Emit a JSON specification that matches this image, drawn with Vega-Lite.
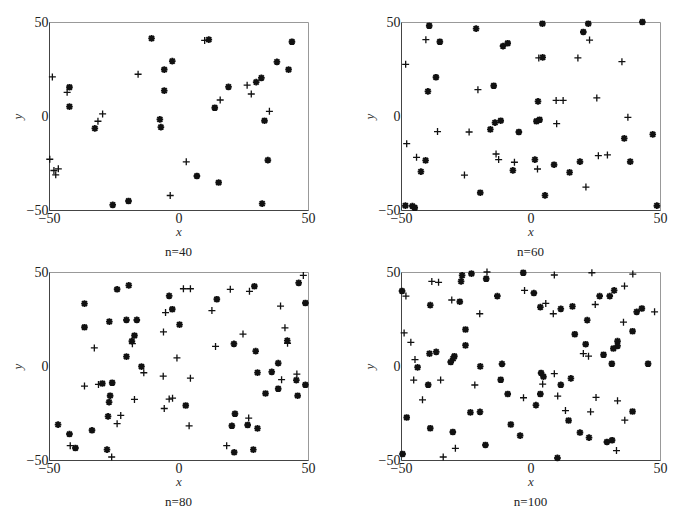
{
  "$schema": "https://vega.github.io/schema/vega-lite/v6.json",
  "padding": {"left": 10, "top": 14, "right": 5, "bottom": 5},
  "background": "white",
  "datasets": {
    "p40": [
      {"x": -10.4, "y": 41.3, "m": "a"}, {"x": 11.7, "y": 40.6, "m": "a"}, {"x": 43.8, "y": 39.5, "m": "a"}, {"x": -2.4, "y": 29.2, "m": "a"},
      {"x": -5.5, "y": 24.7, "m": "a"}, {"x": 38.0, "y": 28.8, "m": "a"}, {"x": 42.5, "y": 24.7, "m": "a"}, {"x": 32.0, "y": 20.3, "m": "a"},
      {"x": 30.0, "y": 18.0, "m": "a"}, {"x": -42.1, "y": 15.3, "m": "a"}, {"x": 19.3, "y": 15.5, "m": "a"}, {"x": -5.5, "y": 13.5, "m": "a"},
      {"x": -42.1, "y": 5.0, "m": "a"}, {"x": 14.0, "y": 4.4, "m": "a"}, {"x": -7.2, "y": -1.8, "m": "a"}, {"x": -6.8, "y": -5.9, "m": "a"},
      {"x": -32.3, "y": -6.6, "m": "a"}, {"x": 33.2, "y": -2.5, "m": "a"}, {"x": 34.5, "y": -23.5, "m": "a"}, {"x": 7.1, "y": -31.9, "m": "a"},
      {"x": 15.5, "y": -35.4, "m": "a"}, {"x": -19.3, "y": -45.2, "m": "a"}, {"x": -25.4, "y": -47.3, "m": "a"}, {"x": 32.3, "y": -46.6, "m": "a"},
      {"x": -48.7, "y": 20.8, "m": "p"}, {"x": -43.0, "y": 12.6, "m": "p"}, {"x": -15.6, "y": 22.2, "m": "p"}, {"x": 10.1, "y": 40.2, "m": "p"},
      {"x": 26.5, "y": 16.4, "m": "p"}, {"x": 28.1, "y": 11.7, "m": "p"}, {"x": 16.1, "y": 8.5, "m": "p"}, {"x": 35.1, "y": 2.5, "m": "p"},
      {"x": -29.3, "y": 1.1, "m": "p"}, {"x": -31.1, "y": -2.8, "m": "p"}, {"x": -49.7, "y": -23.0, "m": "p"}, {"x": -48.1, "y": -29.0, "m": "p"},
      {"x": -46.4, "y": -28.1, "m": "p"}, {"x": -47.4, "y": -31.3, "m": "p"}, {"x": 3.0, "y": -24.4, "m": "p"}, {"x": -3.2, "y": -42.3, "m": "p"}
    ],
    "p60": [
      {"x": -39.1, "y": 48.0, "m": "a"}, {"x": -21.0, "y": 46.5, "m": "a"}, {"x": -35.0, "y": 39.5, "m": "a"}, {"x": -10.6, "y": 37.2, "m": "a"},
      {"x": -8.8, "y": 38.7, "m": "a"}, {"x": 4.6, "y": 49.1, "m": "a"}, {"x": 20.4, "y": 44.7, "m": "a"}, {"x": 22.3, "y": 49.1, "m": "a"},
      {"x": 43.2, "y": 50.0, "m": "a"}, {"x": 4.7, "y": 31.2, "m": "a"}, {"x": -36.5, "y": 20.6, "m": "a"}, {"x": -39.6, "y": 13.1, "m": "a"},
      {"x": -14.2, "y": 16.1, "m": "a"}, {"x": 2.9, "y": 7.8, "m": "a"}, {"x": 3.5, "y": -2.0, "m": "a"}, {"x": 2.3, "y": -2.8, "m": "a"},
      {"x": -11.5, "y": -2.5, "m": "a"}, {"x": -13.7, "y": -3.5, "m": "a"}, {"x": -15.5, "y": -7.1, "m": "a"}, {"x": -4.5, "y": -8.5, "m": "a"},
      {"x": 36.2, "y": -11.9, "m": "a"}, {"x": 47.2, "y": -9.8, "m": "a"}, {"x": -40.5, "y": -23.6, "m": "a"}, {"x": -42.3, "y": -29.6, "m": "a"},
      {"x": 1.7, "y": -23.2, "m": "a"}, {"x": -6.8, "y": -28.9, "m": "a"}, {"x": 9.1, "y": -25.9, "m": "a"}, {"x": 19.1, "y": -24.3, "m": "a"},
      {"x": 15.1, "y": -30.0, "m": "a"}, {"x": 38.5, "y": -24.3, "m": "a"}, {"x": -19.4, "y": -40.8, "m": "a"}, {"x": 5.6, "y": -42.2, "m": "a"},
      {"x": -48.3, "y": -47.7, "m": "a"}, {"x": -44.7, "y": -48.8, "m": "a"}, {"x": -45.6, "y": -47.9, "m": "a"}, {"x": 48.8, "y": -47.7, "m": "a"},
      {"x": -40.4, "y": 40.6, "m": "p"}, {"x": -48.2, "y": 27.5, "m": "p"}, {"x": 22.8, "y": 40.4, "m": "p"}, {"x": 3.2, "y": 30.9, "m": "p"},
      {"x": 18.3, "y": 30.9, "m": "p"}, {"x": 35.3, "y": 28.9, "m": "p"}, {"x": -20.3, "y": 14.0, "m": "p"}, {"x": 9.9, "y": 8.3, "m": "p"},
      {"x": 12.6, "y": 8.3, "m": "p"}, {"x": 25.6, "y": 9.6, "m": "p"}, {"x": 37.6, "y": -0.7, "m": "p"}, {"x": 10.1, "y": -4.1, "m": "p"},
      {"x": -35.9, "y": -8.3, "m": "p"}, {"x": -23.7, "y": -8.5, "m": "p"}, {"x": -47.8, "y": -14.7, "m": "p"}, {"x": -44.0, "y": -22.0, "m": "p"},
      {"x": -13.3, "y": -20.2, "m": "p"}, {"x": -12.3, "y": -23.2, "m": "p"}, {"x": -6.2, "y": -24.6, "m": "p"}, {"x": 2.7, "y": -28.2, "m": "p"},
      {"x": 26.2, "y": -21.1, "m": "p"}, {"x": 29.7, "y": -20.7, "m": "p"}, {"x": -25.5, "y": -31.4, "m": "p"}, {"x": 21.4, "y": -37.8, "m": "p"}
    ],
    "p80": [
      {"x": -36.3, "y": 33.2, "m": "a"}, {"x": -36.3, "y": 20.6, "m": "a"}, {"x": -23.7, "y": 40.8, "m": "a"}, {"x": -19.2, "y": 42.9, "m": "a"},
      {"x": -26.7, "y": 23.6, "m": "a"}, {"x": -20.1, "y": 24.5, "m": "a"}, {"x": -16.1, "y": 24.5, "m": "a"}, {"x": -17.0, "y": 16.2, "m": "a"},
      {"x": -18.0, "y": 13.2, "m": "a"}, {"x": -20.1, "y": 5.0, "m": "a"}, {"x": -14.3, "y": -0.3, "m": "a"}, {"x": -3.6, "y": 37.3, "m": "a"},
      {"x": -2.4, "y": 30.2, "m": "a"}, {"x": 0.4, "y": 22.0, "m": "a"}, {"x": 14.8, "y": 35.5, "m": "a"}, {"x": 29.3, "y": 42.4, "m": "a"},
      {"x": 46.4, "y": 44.2, "m": "a"}, {"x": 49.0, "y": 33.5, "m": "a"}, {"x": 21.4, "y": 11.8, "m": "a"}, {"x": 29.8, "y": 7.9, "m": "a"},
      {"x": 42.0, "y": 13.5, "m": "a"}, {"x": 38.5, "y": 1.5, "m": "a"}, {"x": 30.5, "y": -3.5, "m": "a"}, {"x": 36.0, "y": -3.1, "m": "a"},
      {"x": 38.5, "y": -12.1, "m": "a"}, {"x": 33.6, "y": -14.6, "m": "a"}, {"x": 45.5, "y": -7.5, "m": "a"}, {"x": 49.0, "y": -10.0, "m": "a"},
      {"x": 46.0, "y": -15.8, "m": "a"}, {"x": -25.6, "y": -8.9, "m": "a"}, {"x": -29.4, "y": -9.3, "m": "a"}, {"x": -26.4, "y": -15.8, "m": "a"},
      {"x": -26.8, "y": -19.2, "m": "a"}, {"x": -27.2, "y": -26.8, "m": "a"}, {"x": 2.8, "y": -21.0, "m": "a"}, {"x": 21.8, "y": -25.4, "m": "a"},
      {"x": 20.6, "y": -31.8, "m": "a"}, {"x": 26.7, "y": -31.4, "m": "a"}, {"x": 30.5, "y": -33.2, "m": "a"}, {"x": -46.5, "y": -31.2, "m": "a"},
      {"x": -42.1, "y": -36.2, "m": "a"}, {"x": -33.4, "y": -34.2, "m": "a"}, {"x": -39.8, "y": -43.6, "m": "a"}, {"x": -27.6, "y": -44.5, "m": "a"},
      {"x": 21.5, "y": -45.9, "m": "a"}, {"x": 28.9, "y": -44.5, "m": "a"},
      {"x": 4.6, "y": 41.1, "m": "p"}, {"x": 1.9, "y": 41.1, "m": "p"}, {"x": 20.0, "y": 40.8, "m": "p"}, {"x": 27.4, "y": 39.7, "m": "p"},
      {"x": 48.2, "y": 48.2, "m": "p"}, {"x": -5.0, "y": 28.4, "m": "p"}, {"x": 12.9, "y": 29.5, "m": "p"}, {"x": 39.4, "y": 31.9, "m": "p"},
      {"x": 41.1, "y": 20.3, "m": "p"}, {"x": -5.8, "y": 18.1, "m": "p"}, {"x": 24.9, "y": 17.0, "m": "p"}, {"x": 42.1, "y": 12.1, "m": "p"},
      {"x": 14.3, "y": 10.4, "m": "p"}, {"x": -17.8, "y": 11.9, "m": "p"}, {"x": -32.5, "y": 9.6, "m": "p"}, {"x": -0.6, "y": 4.3, "m": "p"},
      {"x": -13.4, "y": -3.6, "m": "p"}, {"x": -5.9, "y": -5.4, "m": "p"}, {"x": 4.6, "y": -6.5, "m": "p"}, {"x": 39.8, "y": -7.3, "m": "p"},
      {"x": 45.7, "y": -4.3, "m": "p"}, {"x": -36.3, "y": -10.7, "m": "p"}, {"x": -30.9, "y": -9.8, "m": "p"}, {"x": -17.0, "y": -17.8, "m": "p"},
      {"x": -3.6, "y": -17.6, "m": "p"}, {"x": -2.3, "y": -17.1, "m": "p"}, {"x": -5.5, "y": -22.6, "m": "p"}, {"x": -22.3, "y": -26.3, "m": "p"},
      {"x": -23.7, "y": -30.7, "m": "p"}, {"x": 27.1, "y": -27.7, "m": "p"}, {"x": 4.1, "y": -31.8, "m": "p"}, {"x": -41.8, "y": -42.4, "m": "p"},
      {"x": 18.6, "y": -42.4, "m": "p"}, {"x": -25.8, "y": -48.4, "m": "p"}
    ],
    "p100": [
      {"x": -49.6, "y": 39.9, "m": "a"}, {"x": -38.7, "y": 32.4, "m": "a"}, {"x": -26.4, "y": 48.2, "m": "a"}, {"x": -26.8, "y": 45.0, "m": "a"},
      {"x": -22.8, "y": 49.1, "m": "a"}, {"x": -17.1, "y": 46.4, "m": "a"}, {"x": -27.3, "y": 34.2, "m": "a"}, {"x": -12.8, "y": 37.2, "m": "a"},
      {"x": -2.8, "y": 49.6, "m": "a"}, {"x": 1.3, "y": 38.8, "m": "a"}, {"x": 3.8, "y": 31.3, "m": "a"}, {"x": 11.7, "y": 30.4, "m": "a"},
      {"x": 16.2, "y": 31.7, "m": "a"}, {"x": 26.7, "y": 37.2, "m": "a"}, {"x": 30.6, "y": 37.2, "m": "a"}, {"x": 32.3, "y": 40.2, "m": "a"},
      {"x": 21.9, "y": 24.4, "m": "a"}, {"x": 41.0, "y": 28.8, "m": "a"}, {"x": 43.0, "y": 30.6, "m": "a"}, {"x": -25.1, "y": 19.4, "m": "a"},
      {"x": -25.1, "y": 11.0, "m": "a"}, {"x": 17.1, "y": 16.9, "m": "a"}, {"x": 21.3, "y": 11.6, "m": "a"}, {"x": 33.6, "y": 13.2, "m": "a"},
      {"x": 33.6, "y": 10.7, "m": "a"}, {"x": 32.0, "y": 9.3, "m": "a"}, {"x": 39.4, "y": 18.5, "m": "a"}, {"x": 28.2, "y": 6.0, "m": "a"},
      {"x": 31.4, "y": 1.2, "m": "a"}, {"x": 45.4, "y": 1.2, "m": "a"}, {"x": -39.0, "y": 6.6, "m": "a"}, {"x": -36.4, "y": 7.5, "m": "a"},
      {"x": -29.4, "y": 5.2, "m": "a"}, {"x": -29.9, "y": 3.9, "m": "a"}, {"x": -30.8, "y": 2.1, "m": "a"}, {"x": -43.6, "y": -0.7, "m": "a"},
      {"x": -19.4, "y": -0.2, "m": "a"}, {"x": -11.0, "y": 1.1, "m": "a"}, {"x": -11.5, "y": -7.3, "m": "a"}, {"x": -39.5, "y": -10.0, "m": "a"},
      {"x": 4.1, "y": -3.7, "m": "a"}, {"x": 5.0, "y": -5.7, "m": "a"}, {"x": 11.7, "y": -10.0, "m": "a"}, {"x": 15.6, "y": -6.6, "m": "a"},
      {"x": -8.8, "y": -14.9, "m": "a"}, {"x": 3.8, "y": -14.9, "m": "a"}, {"x": 2.1, "y": -20.8, "m": "a"}, {"x": -47.8, "y": -27.4, "m": "a"},
      {"x": -38.7, "y": -33.1, "m": "a"}, {"x": -30.0, "y": -35.1, "m": "a"}, {"x": -23.2, "y": -24.7, "m": "a"}, {"x": -19.5, "y": -24.4, "m": "a"},
      {"x": -7.6, "y": -31.1, "m": "a"}, {"x": -4.0, "y": -37.0, "m": "a"}, {"x": -17.4, "y": -42.0, "m": "a"}, {"x": 14.7, "y": -29.0, "m": "a"},
      {"x": 19.1, "y": -35.4, "m": "a"}, {"x": 22.6, "y": -38.1, "m": "a"}, {"x": 29.5, "y": -40.4, "m": "a"}, {"x": 31.5, "y": -39.5, "m": "a"},
      {"x": 39.4, "y": -24.2, "m": "a"}, {"x": -49.4, "y": -46.8, "m": "a"}, {"x": 10.4, "y": -48.9, "m": "a"},
      {"x": -38.1, "y": 45.0, "m": "p"}, {"x": -35.5, "y": 44.5, "m": "p"}, {"x": -16.8, "y": 50.0, "m": "p"}, {"x": 9.2, "y": 48.4, "m": "p"},
      {"x": 23.7, "y": 49.6, "m": "p"}, {"x": 39.5, "y": 48.9, "m": "p"}, {"x": 36.3, "y": 42.5, "m": "p"}, {"x": -48.1, "y": 37.2, "m": "p"},
      {"x": -2.3, "y": 40.2, "m": "p"}, {"x": 5.9, "y": 33.3, "m": "p"}, {"x": 25.0, "y": 32.7, "m": "p"}, {"x": -30.4, "y": 35.1, "m": "p"},
      {"x": -19.6, "y": 27.8, "m": "p"}, {"x": 8.8, "y": 27.8, "m": "p"}, {"x": 47.9, "y": 28.8, "m": "p"}, {"x": 35.9, "y": 23.3, "m": "p"},
      {"x": -48.8, "y": 17.6, "m": "p"}, {"x": -46.2, "y": 12.6, "m": "p"}, {"x": -44.6, "y": 3.4, "m": "p"}, {"x": 20.4, "y": 6.6, "m": "p"},
      {"x": 22.4, "y": 5.2, "m": "p"}, {"x": -45.1, "y": -7.5, "m": "p"}, {"x": -34.7, "y": -7.5, "m": "p"}, {"x": -21.5, "y": -10.1, "m": "p"},
      {"x": -41.7, "y": -18.0, "m": "p"}, {"x": 4.7, "y": -9.6, "m": "p"}, {"x": 9.2, "y": -4.1, "m": "p"}, {"x": -2.7, "y": -16.9, "m": "p"},
      {"x": 10.5, "y": -16.0, "m": "p"}, {"x": 25.3, "y": -16.7, "m": "p"}, {"x": 33.6, "y": -18.5, "m": "p"}, {"x": 13.5, "y": -23.7, "m": "p"},
      {"x": 23.2, "y": -24.4, "m": "p"}, {"x": 36.4, "y": -28.8, "m": "p"}, {"x": -29.0, "y": -43.8, "m": "p"}, {"x": -33.7, "y": -48.4, "m": "p"},
      {"x": 33.2, "y": -45.0, "m": "p"}
    ]
  },
  "columns": 2,
  "spacing": {"column": 46, "row": 4},
  "concat": [
    {
      "title": "n=40",
      "width": 259, "height": 188,
      "data": {"name": "p40"},
      "layer": [
        {"transform": [{"filter": "datum.m == 'a'"}], "mark": {"type": "point", "shape": "M-1,0L1,0M0,-1L0,1M-0.75,-0.75L0.75,0.75M-0.75,0.75L0.75,-0.75", "filled": false, "stroke": "#111", "strokeWidth": 1.9, "size": 44, "opacity": 1},
         "encoding": {"x": {"field": "x", "type": "quantitative", "scale": {"domain": [-50, 50], "nice": false, "zero": false}, "axis": {"values": [-50, 0, 50]}, "title": "x"},
                      "y": {"field": "y", "type": "quantitative", "scale": {"domain": [-50, 50], "nice": false, "zero": false}, "axis": {"values": [-50, 0, 50]}, "title": "y"}}},
        {"transform": [{"filter": "datum.m == 'p'"}], "mark": {"type": "point", "shape": "M-1,0L1,0M0,-1L0,1", "filled": false, "stroke": "#111", "strokeWidth": 1.3, "size": 49, "opacity": 1},
         "encoding": {"x": {"field": "x", "type": "quantitative"}, "y": {"field": "y", "type": "quantitative"}}}
      ]
    },
    {
      "title": "n=60",
      "width": 259, "height": 188,
      "data": {"name": "p60"},
      "layer": [
        {"transform": [{"filter": "datum.m == 'a'"}], "mark": {"type": "point", "shape": "M-1,0L1,0M0,-1L0,1M-0.75,-0.75L0.75,0.75M-0.75,0.75L0.75,-0.75", "filled": false, "stroke": "#111", "strokeWidth": 1.9, "size": 44, "opacity": 1},
         "encoding": {"x": {"field": "x", "type": "quantitative", "scale": {"domain": [-50, 50], "nice": false, "zero": false}, "axis": {"values": [-50, 0, 50]}, "title": "x"},
                      "y": {"field": "y", "type": "quantitative", "scale": {"domain": [-50, 50], "nice": false, "zero": false}, "axis": {"values": [-50, 0, 50]}, "title": "y"}}},
        {"transform": [{"filter": "datum.m == 'p'"}], "mark": {"type": "point", "shape": "M-1,0L1,0M0,-1L0,1", "filled": false, "stroke": "#111", "strokeWidth": 1.3, "size": 49, "opacity": 1},
         "encoding": {"x": {"field": "x", "type": "quantitative"}, "y": {"field": "y", "type": "quantitative"}}}
      ]
    },
    {
      "title": "n=80",
      "width": 259, "height": 188,
      "data": {"name": "p80"},
      "layer": [
        {"transform": [{"filter": "datum.m == 'a'"}], "mark": {"type": "point", "shape": "M-1,0L1,0M0,-1L0,1M-0.75,-0.75L0.75,0.75M-0.75,0.75L0.75,-0.75", "filled": false, "stroke": "#111", "strokeWidth": 1.9, "size": 44, "opacity": 1},
         "encoding": {"x": {"field": "x", "type": "quantitative", "scale": {"domain": [-50, 50], "nice": false, "zero": false}, "axis": {"values": [-50, 0, 50]}, "title": "x"},
                      "y": {"field": "y", "type": "quantitative", "scale": {"domain": [-50, 50], "nice": false, "zero": false}, "axis": {"values": [-50, 0, 50]}, "title": "y"}}},
        {"transform": [{"filter": "datum.m == 'p'"}], "mark": {"type": "point", "shape": "M-1,0L1,0M0,-1L0,1", "filled": false, "stroke": "#111", "strokeWidth": 1.3, "size": 49, "opacity": 1},
         "encoding": {"x": {"field": "x", "type": "quantitative"}, "y": {"field": "y", "type": "quantitative"}}}
      ]
    },
    {
      "title": "n=100",
      "width": 259, "height": 188,
      "data": {"name": "p100"},
      "layer": [
        {"transform": [{"filter": "datum.m == 'a'"}], "mark": {"type": "point", "shape": "M-1,0L1,0M0,-1L0,1M-0.75,-0.75L0.75,0.75M-0.75,0.75L0.75,-0.75", "filled": false, "stroke": "#111", "strokeWidth": 1.9, "size": 44, "opacity": 1},
         "encoding": {"x": {"field": "x", "type": "quantitative", "scale": {"domain": [-50, 50], "nice": false, "zero": false}, "axis": {"values": [-50, 0, 50]}, "title": "x"},
                      "y": {"field": "y", "type": "quantitative", "scale": {"domain": [-50, 50], "nice": false, "zero": false}, "axis": {"values": [-50, 0, 50]}, "title": "y"}}},
        {"transform": [{"filter": "datum.m == 'p'"}], "mark": {"type": "point", "shape": "M-1,0L1,0M0,-1L0,1", "filled": false, "stroke": "#111", "strokeWidth": 1.3, "size": 49, "opacity": 1},
         "encoding": {"x": {"field": "x", "type": "quantitative"}, "y": {"field": "y", "type": "quantitative"}}}
      ]
    }
  ],
  "config": {
    "view": {"stroke": "#999", "strokeWidth": 1},
    "axis": {"grid": false, "ticks": false, "domainColor": "#444", "domainWidth": 1, "labelFont": "Liberation Serif", "labelFontSize": 14, "labelColor": "#222", "labelFlush": false, "labelOverlap": false, "labelPadding": 1, "titleFont": "Liberation Serif", "titleFontStyle": "italic", "titleFontWeight": "normal", "titleFontSize": 13, "titleColor": "#333"},
    "axisX": {"titlePadding": 0},
    "axisY": {"titlePadding": 2},
    "title": {"orient": "bottom", "font": "Liberation Serif", "fontSize": 13, "fontWeight": "normal", "color": "#222", "offset": 8, "anchor": "middle"}
  }
}
